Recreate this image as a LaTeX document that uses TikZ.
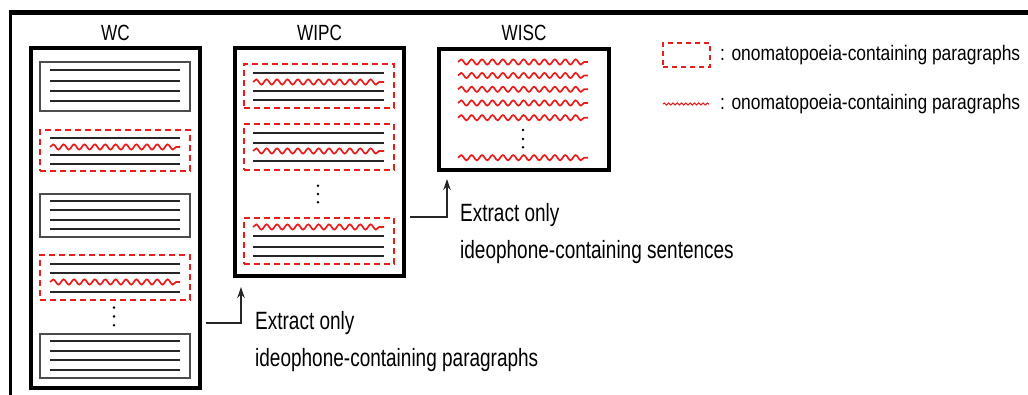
\documentclass[tikz,border=0pt]{standalone}
\usepackage{fontspec}
\setmainfont{Liberation Sans}
\usetikzlibrary{arrows.meta,decorations.pathmorphing}
\definecolor{wred}{RGB}{232,30,30}
\newcommand{\cond}[2][0.78]{\scalebox{#1}[1]{#2}}

\begin{document}
\begin{tikzpicture}[x=1pt,y=-1pt,
  corpus/.style={draw,line width=3.5pt,inner sep=0pt},
  para/.style={draw=black!70,line width=1.5pt,minimum width=150pt,inner sep=0pt},
  ipara/.style={draw=wred,line width=1.6pt,dash pattern=on 6pt off 4pt,minimum width=150pt,inner sep=0pt},
  tline/.style={line width=1.8pt,black!85},
  wline/.style={wred,line width=1.7pt,decorate,decoration={snake,segment length=10.4pt,amplitude=2.6pt}},
  title/.style={font=\fontsize{22}{26}\selectfont,inner sep=0pt,anchor=base},
  note/.style={font=\fontsize{25}{30}\selectfont,inner sep=0pt,anchor=base west},
  key/.style={font=\fontsize{21}{25}\selectfont,inner sep=0pt,anchor=base west},
  flow/.style={-{Stealth[length=11pt,width=7.5pt]},line width=1.6pt,black!85,shorten <=4pt},
  dot/.style={circle,fill=black,inner sep=0pt,minimum size=2.8pt}]
\useasboundingbox (0,0) rectangle (1028,395);

\draw[line width=4.5pt] (9,12.5) -- (1028,12.5);
\draw[line width=3pt] (10.5,12) -- (10.5,395);

\node[corpus,minimum width=169pt,minimum height=340pt] (wc) at (115.5,218) {};
\node[corpus,minimum width=169pt,minimum height=228pt] (wipc) at (319.5,162) {};
\node[corpus,minimum width=170pt,minimum height=121pt] (wisc) at (524,109.5) {};
\node[title] (wct) at (115.5,40.5) {\cond[0.78]{WC}};
\node[title] (wipct) at (319.5,40.5) {\cond[0.78]{WIPC}};
\node[title] (wisct) at (524,41) {\cond[0.78]{WISC}};

\node[para,minimum height=49pt] (wc1) at (115,86.5) {};
\node[ipara,minimum height=41pt] (wc2) at (115,150.5) {};
\node[para,minimum height=43pt] (wc3) at (115,215.5) {};
\node[ipara,minimum height=45pt] (wc4) at (115,277.5) {};
\node[para,minimum height=44pt] (wc5) at (115,356) {};
\foreach \y in {70,81,91,101,138,155,164,201,210,220,229,264,273,292,341,351,360,370}
  \draw[tline] (50,\y) -- (180,\y);
\foreach \y in {147,282}
  \draw[wline] (50,\y) -- (180,\y);
\foreach \y [count=\i] in {307.6,316.4,325.2}
  \node[dot] (wcd\i) at (114,\y) {};

\node[ipara,minimum height=44pt] (wipc1) at (319,86) {};
\node[ipara,minimum height=46pt] (wipc2) at (319,147) {};
\node[ipara,minimum height=46pt] (wipc3) at (319,241) {};
\foreach \y in {73,91,100,133,143,161,236,247,256}
  \draw[tline] (253,\y) -- (384,\y);
\foreach \y in {82,151,227}
  \draw[wline] (253,\y) -- (384,\y);
\foreach \y [count=\i] in {185.7,194,202.3}
  \node[dot] (wipcd\i) at (318,\y) {};

\foreach \y in {62,75.5,89.3,103,117.7,157.7}
  \draw[wline] (458,\y) -- (588,\y);
\foreach \y [count=\i] in {130,139,147.3}
  \node[dot] (wiscd\i) at (523,\y) {};

\coordinate (bend1) at (241,323);
\coordinate (tip1) at (241,287);
\draw[flow] (wc.east |- bend1) -- (bend1) -- (tip1);
\node[note] (ex1) at (255,330) {\cond[0.76]{Extract only}};
\node[note] (ex1b) at (255,366.7) {\cond[0.76]{ideophone-containing paragraphs}};

\coordinate (bend2) at (447,217);
\coordinate (tip2) at (447,179);
\draw[flow] (wipc.east |- bend2) -- (bend2) -- (tip2);
\node[note] (ex2) at (460,221.7) {\cond[0.76]{Extract only}};
\node[note] (ex2b) at (460,258.3) {\cond[0.76]{ideophone-containing sentences}};

\node[ipara,minimum width=47pt,minimum height=24pt,line width=1.4pt,dash pattern=on 5pt off 4pt] (keybox) at (686.5,55) {};
\node[key] (keyt1) at (720,60.8) {\cond[0.83]{: onomatopoeia-containing paragraphs}};
\draw[wred,line width=1.1pt,decorate,decoration={snake,segment length=4.3pt,amplitude=1pt}] (663,104) -- (709,104);
\node[key] (keyt2) at (720,109.3) {\cond[0.83]{: onomatopoeia-containing paragraphs}};
\end{tikzpicture}
\end{document}
